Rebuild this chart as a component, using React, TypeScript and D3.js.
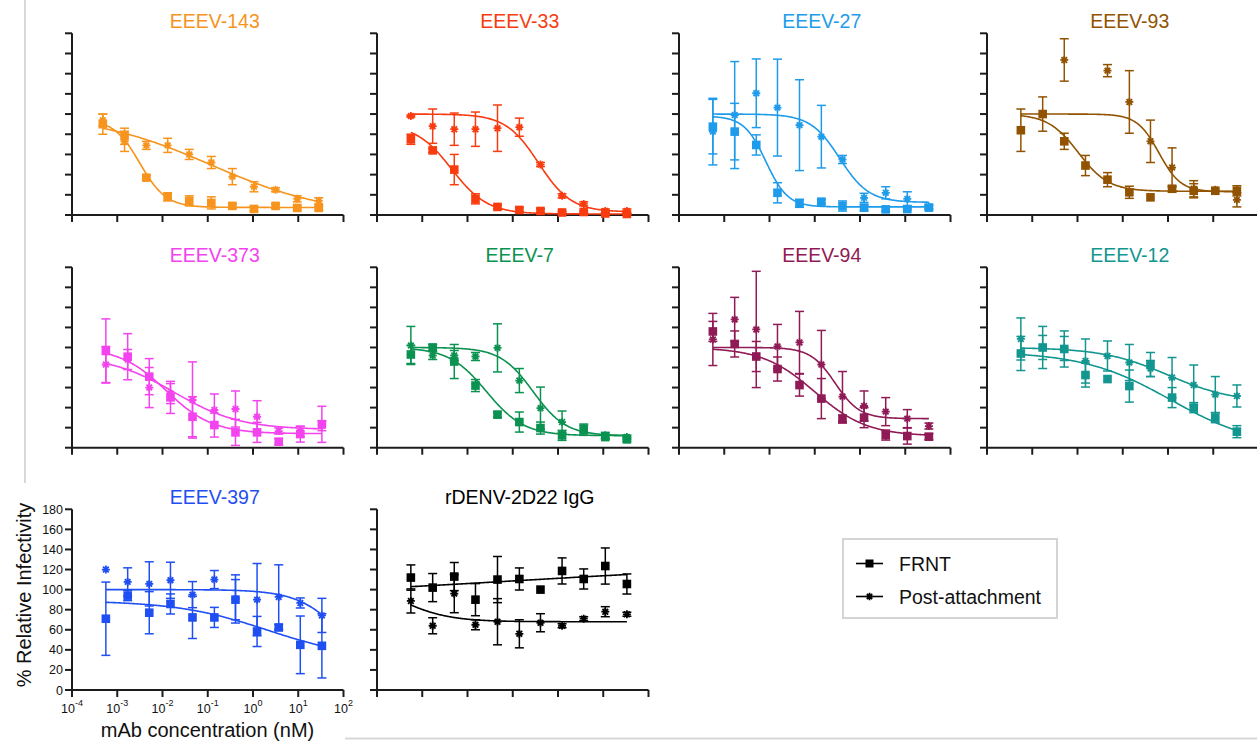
import React from 'react';
import * as d3 from 'd3';

// Antibody concentrations (nM), 3-fold dilution series, lowest first
const CONC = [0.00056, 0.0017, 0.0051, 0.015, 0.046, 0.14, 0.41, 1.23, 3.7, 11.1, 33.3];
const CONC_143 = [0.00048, 0.00145, 0.0044, 0.013, 0.039, 0.12, 0.35, 1.05, 3.15, 9.5, 28.4];

// Fit parameters: [top, bottom, logIC50, hill slope]
type Fit = [number, number, number, number];

// % relative infectivity (mean and SD), FRNT and post-attachment
const E143_FRNT = [90, 78, 37, 18, 14, 12, 9, 6, 9, 7, 7];
const E143_FRNT_SD = [10, 8, 2, 4, 5, 6, 2, 2, 2, 2, 2];
const E143_POST = [94, 73, 69, 69, 60, 52, 38, 28, 25, 16, 14];
const E143_POST_SD = [6, 10, 4, 7, 5, 6, 8, 5, 2, 3, 3];
const E143_FITS: Fit[] = [[95, 7.5, -2.5, 1.5], [100, -1, -0.92, 0.33]];

const E33_FRNT = [75, 64, 45, 16, 8, 5, 4, 2.5, 3, 1.5, 1];
const E33_FRNT_SD = [5, 2, 15, 5, 2, 2, 2, 1, 1, 1, 1];
const E33_POST = [98, 88, 85, 85, 86, 87, 50, 19, 11, 4, 4];
const E33_POST_SD = [1, 17, 16, 17, 23, 9, 2, 2, 2, 2, 2];
const E33_FITS: Fit[] = [[90, 1, -2.35, 1.1], [100, 3, -0.43, 1.2]];

const E27_FRNT = [87.5, 82.6, 69.4, 22, 11.6, 13.2, 8.9, 7.3, 5.6, 5.9, 7.3];
const E27_FRNT_SD = [27, 28, 10, 10, 4, 2, 5, 3, 2, 1, 2];
const E27_POST = [82.6, 99, 120.6, 106.4, 89, 77.6, 55, 17, 22, 16, 8.3];
const E27_POST_SD = [33, 53, 34, 48, 45, 31, 4, 4.5, 6, 7, 2];
const E27_FITS: Fit[] = [[98, 8, -2.08, 1.8], [100, 12.5, -0.45, 1.35]];

const E93_FRNT = [84, 100, 73, 49, 35, 22.5, 17.5, 26, 24, 24, 24];
const E93_FRNT_SD = [21, 17, 8, 10, 7, 6, 0, 3, 7, 0, 5];
const E93_POST = [null, null, 153.6, null, 143, 112, 73, 47, 26, 25, 15];
const E93_POST_SD = [0, 0, 21, 0, 6, 31, 21, 19.5, 8, 0, 7];
const E93_FITS: Fit[] = [[100, 23.5, -1.98, 1.3], [100, 23, -0.2, 1.8]];

const E373_FRNT = [96.5, 90.8, 70.9, 50.2, 30.9, 22.6, 15.3, 15.3, 6, 13.6, 23.3];
const E373_FRNT_SD = [32, 23, 18, 16, 20, 12, 13, 10, 3, 8, 18];
const E373_POST = [83, 88, 60, 54, 47.6, 37.6, 38.6, 30.9, 16.6, 16, 22];
const E373_POST_SD = [18, 10, 20, 10, 38, 16, 18, 16, 3, 5, 5];
const E373_FITS: Fit[] = [[100, 14, -1.92, 0.85], [92, 18, -1.73, 0.6]];

const E7_FRNT = [93, 100, 86, 62, 33, 25.6, 19.6, 12.3, 17.3, 10.6, 8.3];
const E7_FRNT_SD = [9, 3, 17, 6, 3, 10, 6, 5, 5, 2, 2];
const E7_POST = [102, 92, 92, 91, 99.6, 67, 39.5, 25.6, 19.6, 12.3, 10.6];
const E7_POST_SD = [19, 4, 5, 4, 24, 12, 21, 11, 4, 3, 2];
const E7_FITS: Fit[] = [[100, 12, -1.58, 1.05], [100, 12, -0.55, 1.2]];

const E94_FRNT = [116, 103.5, 91, 78.5, 62.5, 49, 28.6, 30, 12.6, 11.6, 11];
const E94_FRNT_SD = [10, 13, 15, 12, 11, 20, 4, 10, 5, 8, 3];
const E94_POST = [108, 128, 118, 101, 105, 83, 51, 41.6, 36, 29, 21.6];
const E94_POST_SD = [26, 22, 58, 22, 31, 34, 25, 15, 14, 9, 3];
const E94_FITS: Fit[] = [[100, 11.5, -1.0, 0.75], [100, 29, -0.55, 1.6]];

const E12_FRNT = [94, 100, 98.5, 72.5, 68.5, 61.5, 83, 50, 40, 30, 16];
const E12_FRNT_SD = [17, 21, 18, 12, 0, 16, 12, 10, 5, 5, 6];
const E12_POST = [108.5, 100, 99, 86.5, 91.5, 85, 79, 70, 62.5, 53, 51.6];
const E12_POST_SD = [21, 12, 12, 22, 15, 18, 8, 20, 20, 18, 11];
const E12_FITS: Fit[] = [[96, 0, 0.05, 0.45], [100, 45, 0, 0.6]];

const E397_FRNT = [71, 94, 77, 85.7, 72.3, 72.3, 90, 58.3, 62.3, 45, 44];
const E397_FRNT_SD = [36.5, 5, 21, 10, 21, 10, 20, 15, 3, 28.7, 32];
const E397_POST = [120, 107.7, 105.7, 109.3, 95, 110, 90.7, 90, 92.7, 86.7, 74.3];
const E397_POST_SD = [0, 14, 22, 18, 13, 9, 24, 36, 32, 5, 17];
const E397_FITS: Fit[] = [[89, 30, 0.33, 0.43], [100, 0, 2.09, 0.84]];

const DENV_FRNT = [112, 102, 113, 90, 110, 110.6, 100, 118.6, 110.6, 123.5, 105.6];
const DENV_FRNT_SD = [12.6, 14, 14, 16, 23, 11, 0, 13, 10, 18, 10];
const DENV_POST = [88.7, 64, 96, 65, 68, 56, 67, 64, 71, 78, 75.4];
const DENV_POST_SD = [12, 8, 19, 5, 23, 14, 9, 2, 2, 5, 2];
const DENV_FITS: Fit[] = [[90, 128, -0.86, 0.12], [111, 68, -3.5, 0.8]];

const Y_TICKS = [0, 20, 40, 60, 80, 100, 120, 140, 160, 180];
const X_TICK_EXP = [-4, -3, -2, -1, 0, 1, 2];
const LEGEND_LABELS = ['FRNT', 'Post-attachment'];

const FONT = "'Liberation Sans', Arial, Helvetica, sans-serif";

type Panel = {
  title: string;
  color: string;
  row: number;
  col: number;
  conc: number[];
  frnt: (number | null)[];
  frntSd: number[];
  post: (number | null)[];
  postSd: number[];
  fits: Fit[];
  labelled?: boolean;
};

const PANELS: Panel[] = [
  { title: 'EEEV-143', color: '#F7941D', row: 0, col: 0, conc: CONC_143, frnt: E143_FRNT, frntSd: E143_FRNT_SD, post: E143_POST, postSd: E143_POST_SD, fits: E143_FITS },
  { title: 'EEEV-33', color: '#F83C10', row: 0, col: 1, conc: CONC, frnt: E33_FRNT, frntSd: E33_FRNT_SD, post: E33_POST, postSd: E33_POST_SD, fits: E33_FITS },
  { title: 'EEEV-27', color: '#1E9BEA', row: 0, col: 2, conc: CONC, frnt: E27_FRNT, frntSd: E27_FRNT_SD, post: E27_POST, postSd: E27_POST_SD, fits: E27_FITS },
  { title: 'EEEV-93', color: '#915300', row: 0, col: 3, conc: CONC, frnt: E93_FRNT, frntSd: E93_FRNT_SD, post: E93_POST, postSd: E93_POST_SD, fits: E93_FITS },
  { title: 'EEEV-373', color: '#F343EE', row: 1, col: 0, conc: CONC, frnt: E373_FRNT, frntSd: E373_FRNT_SD, post: E373_POST, postSd: E373_POST_SD, fits: E373_FITS },
  { title: 'EEEV-7', color: '#0B9150', row: 1, col: 1, conc: CONC, frnt: E7_FRNT, frntSd: E7_FRNT_SD, post: E7_POST, postSd: E7_POST_SD, fits: E7_FITS },
  { title: 'EEEV-94', color: '#901A55', row: 1, col: 2, conc: CONC, frnt: E94_FRNT, frntSd: E94_FRNT_SD, post: E94_POST, postSd: E94_POST_SD, fits: E94_FITS },
  { title: 'EEEV-12', color: '#12968F', row: 1, col: 3, conc: CONC, frnt: E12_FRNT, frntSd: E12_FRNT_SD, post: E12_POST, postSd: E12_POST_SD, fits: E12_FITS },
  { title: 'EEEV-397', color: '#1F4FF2', row: 2, col: 0, conc: CONC, frnt: E397_FRNT, frntSd: E397_FRNT_SD, post: E397_POST, postSd: E397_POST_SD, fits: E397_FITS, labelled: true },
  { title: 'rDENV-2D22 IgG', color: '#000000', row: 2, col: 1, conc: CONC, frnt: DENV_FRNT, frntSd: DENV_FRNT_SD, post: DENV_POST, postSd: DENV_POST_SD, fits: DENV_FITS },
];

// Layout of the grid of small multiples
const COL_X = [72, 377, 679, 987];
const ROWS = [
  { top: 33.3, bottom: 215 },
  { top: 267.3, bottom: 447.7 },
  { top: 509.3, bottom: 690 },
];
const AXIS_W = 271.5;
const AXIS_COLOR = '#1c1c1c';

// Four-parameter logistic dose-response
function logistic(fit: Fit, logX: number) {
  const [top, bottom, logIC50, hill] = fit;
  return bottom + (top - bottom) / (1 + Math.pow(10, (logX - logIC50) * hill));
}

function asteriskPath(cx: number, cy: number, r: number) {
  let d = '';
  for (let k = 0; k < 4; k++) {
    const a = (k * Math.PI) / 4;
    const dx = r * Math.cos(a);
    const dy = r * Math.sin(a);
    d += `M${cx + dx},${cy + dy}L${cx - dx},${cy - dy}`;
  }
  return d;
}

function ErrorBar({ x, y0, y1, color }: { x: number; y0: number; y1: number; color: string }) {
  const cap = 4.5;
  return (
    <g stroke={color} strokeWidth={1.5} fill="none">
      <line x1={x} x2={x} y1={y0} y2={y1} />
      <line x1={x - cap} x2={x + cap} y1={y0} y2={y0} />
      <line x1={x - cap} x2={x + cap} y1={y1} y2={y1} />
    </g>
  );
}

function PanelView({ p }: { p: Panel }) {
  const x0 = COL_X[p.col];
  const { top, bottom } = ROWS[p.row];
  const x = d3.scaleLog().domain([1e-4, 1e2]).range([x0, x0 + AXIS_W]);
  const y = d3.scaleLinear().domain([0, 180]).range([bottom, top]);

  const lo = Math.log10(p.conc[0]);
  const hi = Math.log10(p.conc[p.conc.length - 1]);
  const samples = d3.range(0, 241).map((i) => lo + ((hi - lo) * i) / 240);
  const curve = (fit: Fit) =>
    d3
      .line<number>()
      .x((l) => x(Math.pow(10, l)))
      .y((l) => y(logistic(fit, l)))(samples) || '';

  const series = [
    { vals: p.frnt, sd: p.frntSd, kind: 'square' },
    { vals: p.post, sd: p.postSd, kind: 'star' },
  ];

  const cx = x0 + AXIS_W / 2 + 7;

  return (
    <g>
      <text x={cx} y={top - 5} textAnchor="middle" fontSize={19.5} fill={p.color} fontFamily={FONT}>
        {p.title}
      </text>

      {/* axes */}
      <g stroke={AXIS_COLOR} strokeWidth={2}>
        <line x1={x0} x2={x0} y1={top} y2={bottom} />
        <line x1={x0} x2={x0 + AXIS_W} y1={bottom} y2={bottom} />
        {Y_TICKS.map((t) => (
          <line key={'yt' + t} x1={x0 - 7} x2={x0} y1={y(t)} y2={y(t)} />
        ))}
        {X_TICK_EXP.map((e) => (
          <line key={'xt' + e} x1={x(Math.pow(10, e))} x2={x(Math.pow(10, e))} y1={bottom} y2={bottom + 7} />
        ))}
      </g>

      {p.labelled && (
        <g fontFamily={FONT} fill="#111">
          {Y_TICKS.map((t) => (
            <text key={'yl' + t} x={x0 - 9} y={y(t) + 4.5} textAnchor="end" fontSize={12.5}>
              {t}
            </text>
          ))}
          {X_TICK_EXP.map((e) => (
            <text key={'xl' + e} x={x(Math.pow(10, e))} y={bottom + 22.5} textAnchor="middle" fontSize={12.5}>
              <tspan>10</tspan>
              <tspan dy={-6.5} fontSize={9}>
                {String(e)}
              </tspan>
            </text>
          ))}
        </g>
      )}

      {/* fitted curves */}
      {p.fits.map((f, i) => (
        <path key={'fit' + i} d={curve(f)} fill="none" stroke={p.color} strokeWidth={1.6} />
      ))}

      {/* error bars */}
      {series.map((s, si) =>
        s.vals.map((v, i) =>
          v == null || !s.sd[i] ? null : (
            <ErrorBar
              key={`eb${si}-${i}`}
              x={x(p.conc[i])}
              y0={y(v + s.sd[i])}
              y1={y(Math.max(0, v - s.sd[i]))}
              color={p.color}
            />
          )
        )
      )}

      {/* markers */}
      {series.map((s, si) =>
        s.vals.map((v, i) => {
          if (v == null) return null;
          const px = x(p.conc[i]);
          const py = y(v);
          return s.kind === 'square' ? (
            <rect key={`m${si}-${i}`} x={px - 4.3} y={py - 4.3} width={8.6} height={8.6} fill={p.color} />
          ) : (
            <path key={`m${si}-${i}`} d={asteriskPath(px, py, 4)} stroke={p.color} strokeWidth={1.8} fill="none" />
          );
        })
      )}
    </g>
  );
}

function Legend() {
  const lx = 843;
  const ly = 539;
  const rows = [563.5, 596.5];
  return (
    <g fontFamily={FONT}>
      <rect x={lx} y={ly} width={214} height={79} fill="#fff" stroke="#d4d4d4" strokeWidth={2} />
      {LEGEND_LABELS.map((label, i) => {
        const yy = rows[i];
        return (
          <g key={label}>
            <line x1={856} x2={883} y1={yy} y2={yy} stroke="#000" strokeWidth={1.6} />
            {i === 0 ? (
              <rect x={869.5 - 4} y={yy - 4} width={8} height={8} fill="#000" />
            ) : (
              <path d={asteriskPath(869.5, yy, 3.8)} stroke="#000" strokeWidth={1.7} />
            )}
            <text x={899} y={yy + 7} fontSize={19.5} fill="#111">
              {label}
            </text>
          </g>
        );
      })}
    </g>
  );
}

export default function App() {
  return (
    <svg
      width={1257}
      height={742}
      viewBox="0 0 1257 742"
      style={{ position: 'absolute', left: 0, top: 0, background: '#fff' }}
    >
      <rect x={0} y={0} width={1257} height={742} fill="#fff" />
      {/* frame guides */}
      <line x1={25} x2={25} y1={0} y2={483} stroke="#d8d8d8" strokeWidth={2} />
      <line x1={345} x2={1257} y1={738.5} y2={738.5} stroke="#d8d8d8" strokeWidth={2} />

      {PANELS.map((p) => (
        <PanelView key={p.title} p={p} />
      ))}

      <text
        transform="translate(31,595) rotate(-90)"
        textAnchor="middle"
        fontSize={20}
        fontFamily={FONT}
        fill="#111"
      >
        % Relative Infectivity
      </text>
      <text x={207.5} y={737} textAnchor="middle" fontSize={20} fontFamily={FONT} fill="#111">
        mAb concentration (nM)
      </text>

      <Legend />
    </svg>
  );
}
